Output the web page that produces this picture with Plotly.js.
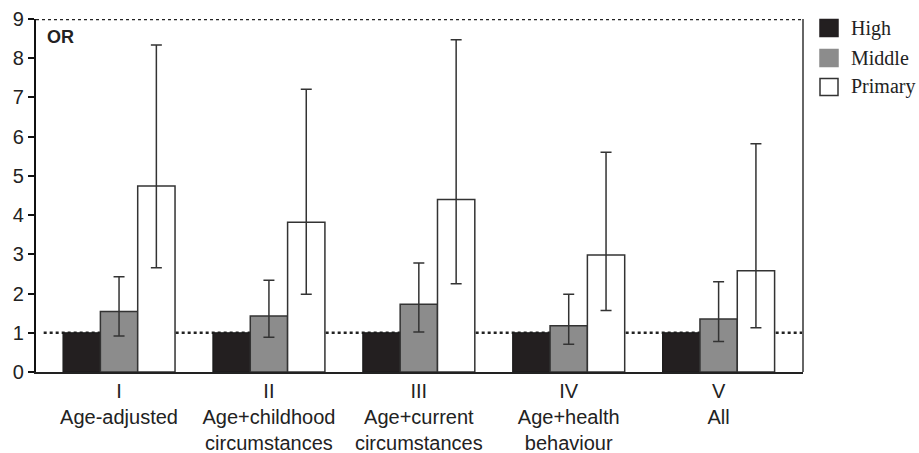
<!DOCTYPE html>
<html>
<head>
<meta charset="utf-8">
<script src="https://cdn.plot.ly/plotly-3.0.1.min.js"></script>
<style>html,body{margin:0;padding:0;background:#fff;}#chart{width:919px;height:453px;}</style>
</head>
<body>
<div id="chart"></div>
<script>
var categories = ["I<br>Age-adjusted", "II<br>Age+childhood<br>circumstances", "III<br>Age+current<br>circumstances", "IV<br>Age+health<br>behaviour", "V<br>All"];
var seriesNames = ["High", "Middle", "Primary"];
var highOR = [1, 1, 1, 1, 1];
var middleOR = [1.54, 1.43, 1.73, 1.18, 1.35];
var middleUpper = [2.43, 2.34, 2.78, 1.98, 2.30];
var middleLower = [0.92, 0.885, 1.02, 0.71, 0.78];
var primaryOR = [4.74, 3.82, 4.40, 2.98, 2.58];
var primaryUpper = [8.34, 7.21, 8.47, 5.60, 5.82];
var primaryLower = [2.66, 1.98, 2.25, 1.57, 1.13];
var yTicks = [0, 1, 2, 3, 4, 5, 6, 7, 8, 9];

var xIdx = categories.map(function (c, i) { return i; });
function diff(a, b) { return a.map(function (v, i) { return +(v - b[i]).toFixed(3); }); }

var lineCol = "#333333";
var errStyle = function (up, down) {
  return {type: "data", symmetric: false, array: up, arrayminus: down,
          color: "#333333", thickness: 1.5, width: 5.5};
};

var traces = [
  {type: "bar", name: seriesNames[0], x: xIdx, y: highOR,
   marker: {color: "#231f20", line: {color: "#1a1a1a", width: 1.2}}},
  {type: "bar", name: seriesNames[1], x: xIdx, y: middleOR,
   marker: {color: "#8c8c8c", line: {color: "#333333", width: 1.5}},
   error_y: errStyle(diff(middleUpper, middleOR), diff(middleOR, middleLower))},
  {type: "bar", name: seriesNames[2], x: xIdx, y: primaryOR,
   marker: {color: "#ffffff", line: {color: "#333333", width: 1.5}},
   error_y: errStyle(diff(primaryUpper, primaryOR), diff(primaryOR, primaryLower))}
];

var legendColors = ["#231f20", "#8c8c8c", "#ffffff"];
var shapes = [
  {type: "line", xref: "paper", yref: "y", x0: 0.01, x1: 1, y0: 1, y1: 1, layer: "below",
   line: {color: "#222", width: 2.6, dash: "dot"}},
  {type: "line", xref: "paper", yref: "y", x0: 0, x1: 1, y0: 9, y1: 9, layer: "below",
   line: {color: "#222", width: 2.4, dash: "dot"}},
  {type: "line", xref: "paper", yref: "paper", x0: 1, x1: 1, y0: 0, y1: 1,
   line: {color: "#666666", width: 2}}
];
var annotations = [
  {xref: "paper", yref: "y", x: 0.012, y: 8.55, xanchor: "left", yanchor: "middle",
   text: "<b>OR</b>", showarrow: false, font: {family: "Liberation Sans, Arial, sans-serif", size: 18, color: "#222"}}
];
var legendY = [28, 58, 87];
seriesNames.forEach(function (n, i) {
  var cy = legendY[i];
  shapes.push({type: "rect", xref: "paper", yref: "paper",
    x0: (820 - 36) / 767, x1: (838 - 36) / 767,
    y0: (372 - (cy + 8.5)) / 353, y1: (372 - (cy - 8.5)) / 353,
    fillcolor: legendColors[i], line: {color: i === 2 ? "#333" : legendColors[i], width: 1.5}});
  annotations.push({xref: "paper", yref: "paper", x: (849 - 36) / 767, y: (372 - cy) / 353,
    xanchor: "left", yanchor: "middle", text: n, showarrow: false,
    font: {family: "Liberation Serif, Times New Roman, serif", size: 20, color: "#222"}});
});

var layout = {
  width: 919, height: 453,
  margin: {l: 36, r: 116, t: 19, b: 81, pad: 0},
  paper_bgcolor: "#ffffff", plot_bgcolor: "#ffffff",
  barmode: "group", bargap: 0.253, bargroupgap: 0,
  showlegend: false,
  font: {family: "Liberation Sans, Arial, sans-serif", size: 20, color: "#222"},
  xaxis: {range: [-0.554, 4.563], tickvals: xIdx, ticktext: categories,
          showline: true, linecolor: "#222", linewidth: 2, ticks: "", showgrid: false,
          zeroline: false, fixedrange: true, tickfont: {size: 20, color: "#222"}},
  yaxis: {range: [0, 9], tickvals: yTicks, showline: true, linecolor: "#111", linewidth: 2.2,
          ticks: "outside", ticklen: 6, tickwidth: 2, tickcolor: "#111",
          showgrid: false, zeroline: false, fixedrange: true,
          tickfont: {size: 20, color: "#222"}},
  shapes: shapes,
  annotations: annotations
};

Plotly.newPlot("chart", traces, layout, {displayModeBar: false, staticPlot: true});
</script>
</body>
</html>
